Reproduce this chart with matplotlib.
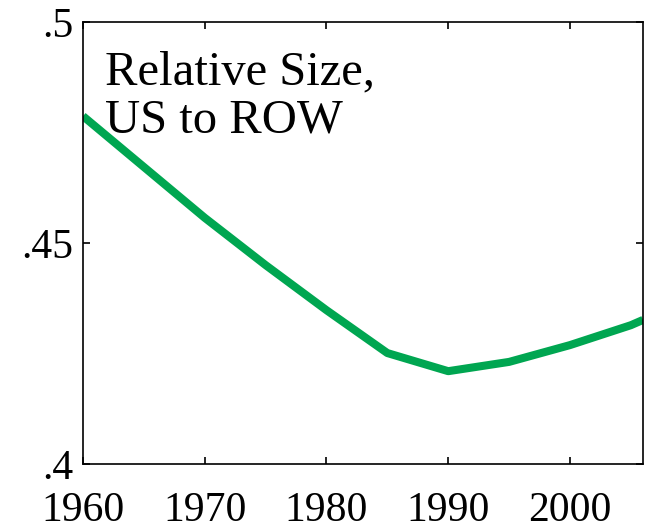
import matplotlib
matplotlib.use("Agg")
import matplotlib.pyplot as plt

years = [1960, 1965, 1970, 1975, 1980, 1985, 1990, 1995, 2000, 2005, 2006]
rel_size = [0.4787, 0.4672, 0.4557, 0.4450, 0.4348, 0.4251, 0.4210, 0.4231, 0.4269, 0.4314, 0.4326]

xticks = [1960, 1970, 1980, 1990, 2000]
yticks = [0.4, 0.45, 0.5]
ylabels = [".4", ".45", ".5"]

plt.rcParams['font.family'] = ['Liberation Serif', 'DejaVu Serif']

fig = plt.figure(figsize=(6.5, 5.3), dpi=100)
ax = fig.add_axes([83 / 650, 1 - 464 / 530, 560 / 650, 442 / 530])

ax.plot(years, rel_size, color="#00a651", linewidth=5.8, solid_capstyle="butt")

ax.set_xlim(1960, 2006)
ax.set_ylim(0.4, 0.5)
ax.set_xticks(xticks)
ax.set_yticks(yticks)
ax.set_yticklabels(ylabels)
ax.tick_params(direction="in", length=5, width=1.2, top=True, right=True,
               labelsize=30)
ax.tick_params(axis="x", pad=20)
ax.tick_params(axis="y", pad=7)
for s in ax.spines.values():
    s.set_linewidth(1.2)

ax.text(0.04, 0.935, "Relative Size,\nUS to ROW", transform=ax.transAxes,
        fontsize=35, va="top", ha="left", linespacing=1.1)

fig.savefig("out.png", dpi=100)
